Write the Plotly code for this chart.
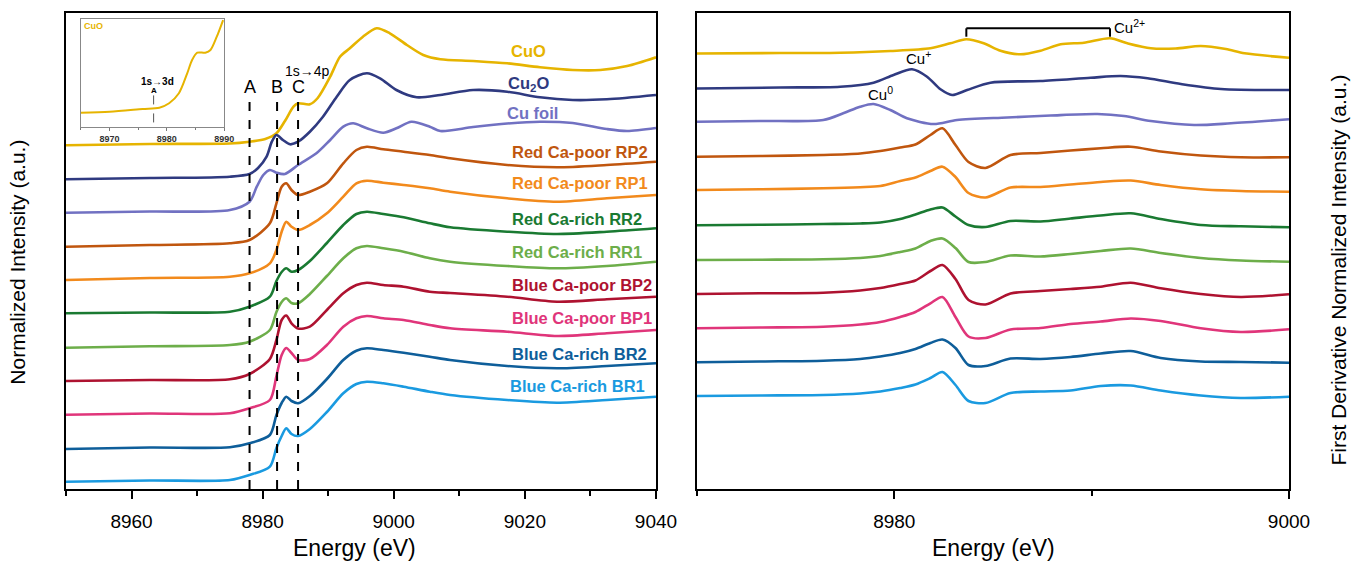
import plotly.graph_objects as go

FONT = "Liberation Sans, Arial, sans-serif"

# ---------------- Left panel: normalized Cu K-edge XANES (stacked) ----------------
E_cuo = [8950.0, 8962.8, 8975.0, 8978.0, 8980.4, 8982.1, 8983.4, 8984.7, 8985.4, 8987.2, 8988.4,
         8990.3, 8991.8, 8993.3, 8995.3, 8997.4, 8999.4, 9002.0, 9004.5, 9007.1, 9012.1, 9017.3,
         9022.3, 9027.3, 9031.5, 9035.6, 9040.0]
I_cuo = [3.447, 3.46, 3.465, 3.483, 3.51, 3.567, 3.69, 3.833, 3.867, 3.857, 3.92, 4.133, 4.333,
         4.417, 4.533, 4.617, 4.567, 4.45, 4.35, 4.307, 4.29, 4.267, 4.227, 4.20, 4.20, 4.24, 4.327]

E_cu2o = [8950.0, 8962.8, 8975.0, 8978.0, 8979.3, 8980.6, 8981.4, 8982.1, 8983.1, 8984.2, 8985.4,
          8987.2, 8989.2, 8991.3, 8993.3, 8995.9, 8997.9, 9000.4, 9003.5, 9007.1, 9012.1, 9017.3,
          9022.3, 9027.3, 9032.5, 9040.0]
I_cu2o = [3.107, 3.12, 3.133, 3.16, 3.22, 3.333, 3.483, 3.55, 3.50, 3.457, 3.483, 3.583, 3.733,
          3.933, 4.10, 4.167, 4.117, 4.00, 3.927, 3.95, 4.00, 3.983, 3.927, 3.90, 3.907, 3.95]

E_cufoil = [8950.0, 8962.8, 8975.0, 8978.0, 8979.1, 8980.1, 8981.1, 8982.1, 8983.4, 8985.4, 8988.2,
            8990.3, 8992.3, 8993.8, 8995.9, 8998.4, 9000.4, 9002.7, 9005.5, 9007.1, 9012.1, 9017.3,
            9022.3, 9027.3, 9032.5, 9035.6, 9040.0]
I_cufoil = [2.773, 2.785, 2.80, 2.883, 3.033, 3.15, 3.20, 3.173, 3.16, 3.25, 3.367, 3.50, 3.633,
            3.667, 3.617, 3.573, 3.617, 3.683, 3.633, 3.59, 3.63, 3.665, 3.683, 3.67, 3.61, 3.59,
            3.62]

E_samples = [8950.0, 8962.8, 8975.0, 8978.0, 8981.1, 8982.1, 8982.9, 8983.6, 8984.4, 8985.4, 8987.2,
             8989.8, 8992.3, 8994.3, 8995.9, 8998.4, 9001.5, 9005.5, 9008.6, 9017.3, 9024.9, 9032.5,
             9040.0]
I_RP2 = [2.433, 2.45, 2.467, 2.50, 2.667, 2.867, 3.033, 3.067, 3.00, 2.95, 2.983, 3.067, 3.267,
         3.40, 3.433, 3.407, 3.383, 3.35, 3.317, 3.25, 3.227, 3.25, 3.283]
I_RP1 = [2.10, 2.12, 2.133, 2.167, 2.267, 2.40, 2.583, 2.683, 2.633, 2.60, 2.65, 2.767, 2.933,
         3.067, 3.093, 3.073, 3.05, 3.017, 2.983, 2.917, 2.883, 2.917, 2.95]
I_RR2 = [1.767, 1.775, 1.783, 1.833, 1.933, 2.09, 2.18, 2.217, 2.183, 2.20, 2.29, 2.47, 2.65,
         2.76, 2.783, 2.76, 2.727, 2.667, 2.627, 2.583, 2.56, 2.583, 2.617]
I_RR1 = [1.423, 1.437, 1.45, 1.483, 1.60, 1.78, 1.88, 1.917, 1.87, 1.867, 1.96, 2.14, 2.317,
         2.417, 2.44, 2.417, 2.383, 2.317, 2.283, 2.24, 2.217, 2.24, 2.283]
I_BP2 = [1.09, 1.10, 1.107, 1.16, 1.31, 1.50, 1.70, 1.745, 1.667, 1.615, 1.633, 1.80, 1.967,
         2.05, 2.073, 2.05, 2.033, 1.983, 1.97, 1.933, 1.883, 1.907, 1.933]
I_BP1 = [0.753, 0.765, 0.767, 0.817, 0.90, 1.14, 1.35, 1.42, 1.37, 1.30, 1.31, 1.45, 1.633,
         1.717, 1.74, 1.717, 1.70, 1.65, 1.617, 1.583, 1.54, 1.567, 1.60]
I_BR2 = [0.41, 0.425, 0.427, 0.467, 0.55, 0.75, 0.87, 0.933, 0.89, 0.867, 0.94, 1.11, 1.30,
         1.393, 1.417, 1.40, 1.373, 1.333, 1.30, 1.24, 1.217, 1.24, 1.267]
I_BR1 = [0.083, 0.095, 0.10, 0.15, 0.233, 0.42, 0.54, 0.617, 0.56, 0.54, 0.61, 0.78, 0.967,
         1.06, 1.083, 1.067, 1.033, 0.983, 0.95, 0.90, 0.873, 0.90, 0.933]

# Inset: CuO pre-edge
E_inset = [8965.0, 8970.05, 8975.8, 8978.7, 8980.4, 8982.1, 8983.55, 8984.4, 8985.3, 8986.7,
           8987.6, 8988.7, 8989.8]
I_inset = [0.13, 0.14, 0.165, 0.177, 0.218, 0.311, 0.497, 0.621, 0.689, 0.689, 0.714, 0.838, 0.993]

# Feature markers (eV)
feature_names = ["A", "B", "C"]
feature_E = [8978.0, 8982.2, 8985.4]

# ---------------- Right panel: first derivative (stacked) ----------------
E_d_cuo = [8970.0, 8974.21, 8977.26, 8979.8, 8981.83, 8982.84, 8983.65, 8984.53, 8985.38, 8986.4,
           8987.41, 8988.43, 8989.61, 8990.93, 8991.81, 8993.0, 8994.26, 8995.53, 8996.8,
           8997.75, 9000.0]
D_cuo = [4.365, 4.37, 4.373, 4.39, 4.417, 4.467, 4.507, 4.467, 4.393, 4.357, 4.393, 4.457, 4.473,
         4.517, 4.467, 4.417, 4.415, 4.44, 4.41, 4.367, 4.323]
E_d_cu2o = [8970.0, 8974.21, 8977.26, 8978.95, 8979.96, 8980.9, 8981.66, 8982.34, 8982.93,
            8983.69, 8984.87, 8987.41, 8989.95, 8991.47, 8992.83, 8994.52, 8996.55, 9000.0]
D_cu2o = [4.015, 4.025, 4.033, 4.073, 4.15, 4.207, 4.133, 4.007, 3.95, 4.00, 4.073, 4.09, 4.123,
          4.14, 4.117, 4.06, 4.01, 4.00]
E_d_cufoil = [8970.0, 8973.2, 8976.4, 8977.41, 8978.27, 8978.95, 8979.8, 8980.64, 8981.99,
              8983.18, 8985.72, 8987.92, 8990.29, 8991.64, 8993.0, 8995.19, 8997.06, 9000.0]
D_cufoil = [3.683, 3.69, 3.70, 3.767, 3.833, 3.86, 3.80, 3.717, 3.66, 3.70, 3.725, 3.745, 3.76,
            3.74, 3.69, 3.65, 3.667, 3.707]

E_d_samples = [8970.0, 8973.2, 8976.4, 8978.27, 8979.29, 8980.3, 8981.07, 8981.83, 8982.44, 8983.1,
               8983.76, 8984.62, 8985.89, 8987.41, 8988.93, 8990.46, 8991.98, 8993.5, 8995.53,
               8997.56, 9000.0]
D_RP2 = [3.333, 3.34, 3.35, 3.365, 3.39, 3.425, 3.455, 3.55, 3.617, 3.45, 3.28, 3.22, 3.35, 3.37,
         3.395, 3.417, 3.433, 3.385, 3.345, 3.327, 3.327]
D_RP1 = [3.00, 3.007, 3.017, 3.028, 3.04, 3.09, 3.125, 3.19, 3.233, 3.13, 2.97, 2.925, 3.025,
         3.03, 3.055, 3.08, 3.095, 3.05, 3.007, 2.99, 2.983]
D_RR2 = [2.647, 2.652, 2.66, 2.665, 2.675, 2.71, 2.755, 2.805, 2.825, 2.735, 2.65, 2.63, 2.69,
         2.685, 2.715, 2.745, 2.767, 2.71, 2.65, 2.637, 2.627]
D_RR1 = [2.30, 2.303, 2.307, 2.32, 2.34, 2.38, 2.415, 2.49, 2.515, 2.42, 2.28, 2.28, 2.345, 2.335,
         2.36, 2.39, 2.415, 2.37, 2.32, 2.295, 2.283]
D_BP2 = [1.96, 1.967, 1.973, 1.995, 2.02, 2.06, 2.095, 2.19, 2.25, 2.11, 1.90, 1.855, 1.965, 1.99,
         2.01, 2.033, 2.073, 2.017, 1.96, 1.93, 1.957]
D_BP1 = [1.617, 1.625, 1.633, 1.655, 1.68, 1.73, 1.78, 1.867, 1.93, 1.73, 1.535, 1.52, 1.605,
         1.62, 1.66, 1.685, 1.715, 1.69, 1.617, 1.58, 1.607]
D_BR2 = [1.277, 1.285, 1.293, 1.31, 1.335, 1.37, 1.41, 1.47, 1.505, 1.42, 1.25, 1.24, 1.315, 1.31,
         1.33, 1.365, 1.39, 1.32, 1.285, 1.28, 1.273]
D_BR1 = [0.94, 0.945, 0.95, 0.965, 0.985, 1.02, 1.055, 1.12, 1.18, 1.05, 0.89, 0.87, 0.97, 0.985,
         0.995, 1.04, 1.045, 0.995, 0.945, 0.92, 0.933]

# Series names, colors, label anchors (energy, intensity) in left panel
names = ["CuO", "Cu<sub>2</sub>O", "Cu foil", "Red Ca-poor RP2", "Red Ca-poor RP1",
         "Red Ca-rich RR2", "Red Ca-rich RR1", "Blue Ca-poor BP2", "Blue Ca-poor BP1",
         "Blue Ca-rich BR2", "Blue Ca-rich BR1"]
colors = ["#E6B400", "#2F3A80", "#7171C2", "#C0560E", "#F28A1C", "#1A7A32", "#6DAE4A",
          "#AE1230", "#E0357A", "#0E5E9A", "#1A9AE0"]
label_E = [9020.6, 9020.5, 9021.2, 9028.4, 9028.4, 9027.9, 9027.9, 9028.7, 9028.7, 9028.4, 9028.1]
label_I = [4.39, 4.06, 3.77, 3.38, 3.07, 2.71, 2.38, 2.05, 1.72, 1.36, 1.04]

left_E = [E_cuo, E_cu2o, E_cufoil] + [E_samples] * 8
left_I = [I_cuo, I_cu2o, I_cufoil, I_RP2, I_RP1, I_RR2, I_RR1, I_BP2, I_BP1, I_BR2, I_BR1]
right_E = [E_d_cuo, E_d_cu2o, E_d_cufoil] + [E_d_samples] * 8
right_D = [D_cuo, D_cu2o, D_cufoil, D_RP2, D_RP1, D_RR2, D_RR1, D_BP2, D_BP1, D_BR2, D_BR1]

fig = go.Figure()
for i in range(len(names)):
    fig.add_trace(go.Scatter(x=left_E[i], y=left_I[i], mode="lines", xaxis="x", yaxis="y",
                             line=dict(color=colors[i], width=2.6, shape="spline", smoothing=0.8),
                             hoverinfo="skip", name=names[i]))
    fig.add_trace(go.Scatter(x=right_E[i], y=right_D[i], mode="lines", xaxis="x2", yaxis="y2",
                             line=dict(color=colors[i], width=2.6, shape="spline", smoothing=0.8),
                             hoverinfo="skip", name=names[i]))
fig.add_trace(go.Scatter(x=E_inset, y=I_inset, mode="lines", xaxis="x3", yaxis="y3",
                         line=dict(color=colors[0], width=2, shape="spline", smoothing=0.8),
                         hoverinfo="skip"))

shapes = []
annotations = []
for nm, e in zip(feature_names, feature_E):
    shapes.append(dict(type="line", xref="x", yref="y", x0=e, x1=e, y0=0.01, y1=3.93,
                       line=dict(color="black", width=2, dash="dash")))
    annotations.append(dict(xref="x", yref="y", x=e, y=4.03, text=nm, showarrow=False,
                            xanchor="center", yanchor="middle",
                            font=dict(size=18, family=FONT, color="black")))
annotations.append(dict(xref="x", yref="y", x=8986.8, y=4.19, text="1s\u21924p", showarrow=False,
                        xanchor="center", yanchor="middle",
                        font=dict(size=14, family=FONT, color="black")))
for i in range(len(names)):
    annotations.append(dict(xref="x", yref="y", x=label_E[i], y=label_I[i],
                            text="<b>" + names[i] + "</b>", showarrow=False,
                            xanchor="center", yanchor="middle",
                            font=dict(size=16.5, family=FONT, color=colors[i])))

# Inset decorations
shapes.append(dict(type="line", xref="x3", yref="y3", x0=8977.7, x1=8977.7, y0=0.04, y1=0.30,
                   line=dict(color="#555555", width=1, dash="dash")))
annotations += [
    dict(xref="x3", yref="y3", x=8965.3, y=0.94, text="<b>CuO</b>", showarrow=False, xanchor="left",
         yanchor="middle", font=dict(size=9, family=FONT, color=colors[0])),
    dict(xref="x3", yref="y3", x=8978.4, y=0.42, text="<b>1s\u21923d</b>", showarrow=False,
         xanchor="center", yanchor="middle", font=dict(size=10, family=FONT, color="black")),
    dict(xref="x3", yref="y3", x=8977.8, y=0.34, text="<b>A</b>", showarrow=False,
         xanchor="center", yanchor="middle", font=dict(size=8, family=FONT, color="black")),
]

# Right panel: oxidation-state markers
shapes += [
    dict(type="line", xref="x2", yref="y2", x0=8983.65, x1=8983.65, y0=4.533, y1=4.617,
         line=dict(color="black", width=2)),
    dict(type="line", xref="x2", yref="y2", x0=8983.65, x1=8990.93, y0=4.617, y1=4.617,
         line=dict(color="black", width=2)),
    dict(type="line", xref="x2", yref="y2", x0=8990.93, x1=8990.93, y0=4.533, y1=4.617,
         line=dict(color="black", width=2)),
]
annotations += [
    dict(xref="x2", yref="y2", x=8991.05, y=4.64, text="Cu<sup>2+</sup>", showarrow=False,
         xanchor="left", yanchor="middle", font=dict(size=15, family=FONT, color="black")),
    dict(xref="x2", yref="y2", x=8981.25, y=4.33, text="Cu<sup>+</sup>", showarrow=False,
         xanchor="center", yanchor="middle", font=dict(size=15, family=FONT, color="black")),
    dict(xref="x2", yref="y2", x=8979.3, y=3.97, text="Cu<sup>0</sup>", showarrow=False,
         xanchor="center", yanchor="middle", font=dict(size=15, family=FONT, color="black")),
]

# Axis titles
annotations += [
    dict(xref="paper", yref="paper", x=0.2363, y=-0.124, text="Energy (eV)", showarrow=False,
         xanchor="center", yanchor="middle", font=dict(size=23, family=FONT, color="black")),
    dict(xref="paper", yref="paper", x=0.758, y=-0.124, text="Energy (eV)", showarrow=False,
         xanchor="center", yanchor="middle", font=dict(size=23, family=FONT, color="black")),
    dict(xref="paper", yref="paper", x=-0.0395, y=0.477, text="Normalized Intensity (a.u.)",
         textangle=-90, showarrow=False, xanchor="center", yanchor="middle",
         font=dict(size=21, family=FONT, color="black")),
    dict(xref="paper", yref="paper", x=1.0405, y=0.46,
         text="First Derivative Normalized Intensity (a.u.)", textangle=-90, showarrow=False,
         xanchor="center", yanchor="middle", font=dict(size=21, family=FONT, color="black")),
]

frame = dict(showline=True, linecolor="black", linewidth=1.5, mirror=True,
             showgrid=False, zeroline=False)
tickf = dict(size=19, family=FONT, color="black")

fig.update_layout(
    width=1352, height=562,
    margin=dict(l=66, r=63, t=13, b=73),
    plot_bgcolor="white", paper_bgcolor="white", showlegend=False,
    xaxis=dict(domain=[0, 0.4824], range=[8950, 9040], tickvals=[8960, 8980, 9000, 9020, 9040],
               ticks="outside", ticklen=8, tickwidth=1.5, tickcolor="black", tickfont=tickf,
               ticklabelstandoff=6,
               minor=dict(tickvals=[8950, 8970, 8990, 9010, 9030], ticks="outside", ticklen=5,
                          tickwidth=1.5, tickcolor="black"),
               **frame),
    yaxis=dict(domain=[0, 1], range=[0.01, 4.77], showticklabels=False, ticks="", **frame),
    xaxis2=dict(domain=[0.5159, 1], anchor="y2", range=[8970, 9000], tickvals=[8980, 9000],
                ticks="outside", ticklen=8, tickwidth=1.5, tickcolor="black", tickfont=tickf,
                ticklabelstandoff=6,
                minor=dict(tickvals=[8970, 8990], ticks="outside", ticklen=5, tickwidth=1.5,
                           tickcolor="black"),
                **frame),
    yaxis2=dict(domain=[0, 1], anchor="x2", range=[0.01, 4.77], showticklabels=False, ticks="",
                **frame),
    xaxis3=dict(domain=[0.012, 0.1294], anchor="y3", range=[8965, 8990],
                tickvals=[8970, 8980, 8990], ticks="outside", ticklen=3, tickwidth=1,
                tickcolor="#777777",
                tickfont=dict(size=9, family=FONT, color="#333333", weight="bold"),
                minor=dict(tickvals=[8965, 8975, 8985], ticks="outside", ticklen=2, tickwidth=1,
                           tickcolor="#777777"),
                showline=True, linecolor="#888888", linewidth=1, mirror=True, showgrid=False,
                zeroline=False),
    yaxis3=dict(domain=[0.7611, 0.9868], anchor="x3", range=[0, 1], showticklabels=False,
                ticks="", showline=True, linecolor="#888888", linewidth=1, mirror=True,
                showgrid=False, zeroline=False),
    shapes=shapes,
    annotations=annotations,
)

fig.write_html("out.html")
